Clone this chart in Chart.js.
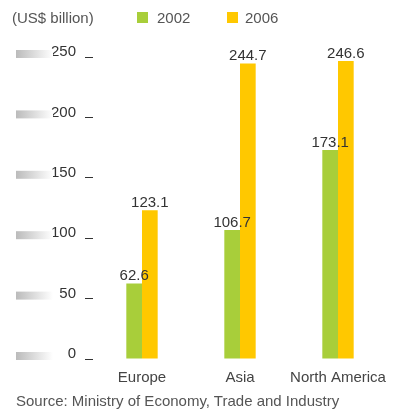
<!DOCTYPE html>
<html>
<head>
<meta charset="utf-8">
<script src="https://cdn.jsdelivr.net/npm/chart.js@4.4.1/dist/chart.umd.min.js"></script>
<style>
  html, body { margin: 0; padding: 0; background: #fff; }
  #wrap { position: relative; width: 401px; height: 409px; font-family: "Liberation Sans", Arial, Helvetica, sans-serif; }
  #chart { position: absolute; left: 0; top: 0; }
  .txt { position: absolute; font-size: 15px; line-height: 15px; white-space: nowrap; }
  .box { position: absolute; width: 11px; height: 11px; }
</style>
</head>
<body>
<div id="wrap">
  <canvas id="chart" width="401" height="409"></canvas>
  <div class="txt" style="left:12px; top:10px; color:#555;">(US$ billion)</div>
  <div class="box" style="left:137px; top:12px; background:#a8ce3a;"></div>
  <div class="txt" style="left:157px; top:10px; color:#555;">2002</div>
  <div class="box" style="left:227px; top:12px; background:#ffc800;"></div>
  <div class="txt" style="left:245px; top:10px; color:#555;">2006</div>
  <div class="txt" style="left:16px; top:393px; color:#555;">Source: Ministry of Economy, Trade and Industry</div>
</div>
<script>
document.addEventListener("DOMContentLoaded", () => {
    // Chart data
    const categories = ["Europe", "Asia", "North America"];
    const values2002 = [62.6, 106.7, 173.1];
    const values2006 = [123.1, 244.7, 246.6];
    const yMin = 0;
    const yMax = 250;
    const yStep = 50;

    const green = "#a8ce3a";
    const yellow = "#ffc800";
    const fontFamily = '"Liberation Sans", Arial, Helvetica, sans-serif';

    // grey fading strips left of each y tick label
    const tickStrips = {
        id: "tickStrips",
        afterDraw(chart) {
            const ctx = chart.ctx;
            const y = chart.scales.y;
            ctx.save();
            y.ticks.forEach(t => {
                const py = y.getPixelForValue(t.value);
                const grad = ctx.createLinearGradient(16, 0, 53, 0);
                grad.addColorStop(0, "#bbbbbb");
                grad.addColorStop(1, "#ffffff");
                ctx.fillStyle = grad;
                ctx.fillRect(16, py - 7, 37, 8);
            });
            ctx.restore();
        }
    };

    // value labels on top of bars
    const valueLabels = {
        id: "valueLabels",
        afterDatasetsDraw(chart) {
            const ctx = chart.ctx;
            ctx.save();
            ctx.font = "15px " + fontFamily;
            ctx.fillStyle = "#333";
            ctx.textAlign = "center";
            ctx.textBaseline = "alphabetic";
            chart.data.datasets.forEach((ds, i) => {
                chart.getDatasetMeta(i).data.forEach((bar, j) => {
                    ctx.fillText(ds.data[j].toFixed(1), bar.x, bar.y - 3);
                });
            });
            ctx.restore();
        }
    };

    new Chart(document.getElementById("chart"), {
        type: "bar",
        data: {
            labels: categories,
            datasets: [
                { label: "2002", data: values2002, backgroundColor: green },
                { label: "2006", data: values2006, backgroundColor: yellow }
            ]
        },
        options: {
            responsive: false,
            animation: false,
            layout: { padding: { top: 57, right: 14, bottom: 20, left: 0 } },
            plugins: { legend: { display: false }, tooltip: { enabled: false } },
            datasets: { bar: { categoryPercentage: 0.32, barPercentage: 1 } },
            scales: {
                x: {
                    grid: { display: false },
                    border: { display: false },
                    ticks: {
                        color: "#444",
                        font: { family: fontFamily, size: 15 },
                        padding: 2,
                        maxRotation: 0,
                        minRotation: 0,
                        autoSkip: false
                    }
                },
                y: {
                    min: yMin,
                    max: yMax,
                    afterFit: s => { s.width = 93; },
                    border: { display: false },
                    grid: { drawOnChartArea: false, drawTicks: true, tickLength: 8, tickColor: "#333", lineWidth: 1 },
                    ticks: {
                        stepSize: yStep,
                        color: "#333",
                        padding: 9,
                        labelOffset: -5,
                        font: { family: fontFamily, size: 15 }
                    }
                }
            }
        },
        plugins: [tickStrips, valueLabels]
    });
});
</script>
</body>
</html>
